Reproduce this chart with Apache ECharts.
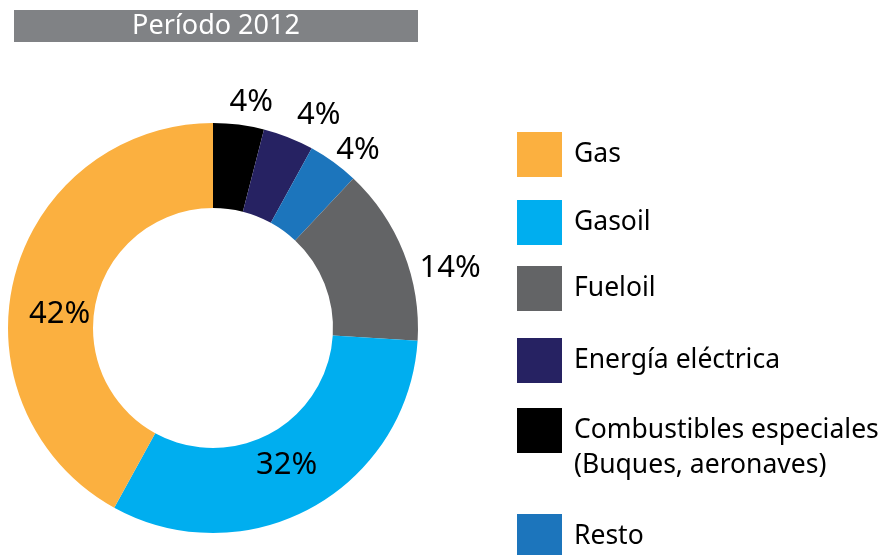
<!DOCTYPE html>
<html>
<head>
<meta charset="utf-8">
<script src="https://cdn.jsdelivr.net/npm/echarts@6/dist/echarts.min.js"></script>
<style>
  html, body { margin: 0; padding: 0; background: #fff; }
  #main { width: 887px; height: 555px; }
</style>
</head>
<body>
<div id="main"></div>
<script>
  // slices, clockwise from 12 o'clock
  var names = ['Combustibles especiales\n(Buques, aeronaves)', 'Energía eléctrica', 'Resto', 'Fueloil', 'Gasoil', 'Gas'];
  var values = [4, 4, 4, 14, 32, 42];
  var colors = ['#000000', '#262262', '#1c75bc', '#636466', '#00aeef', '#fbb040'];
  // legend order
  var legendNames = ['Gas', 'Gasoil', 'Fueloil', 'Energía eléctrica', 'Combustibles especiales\n(Buques, aeronaves)', 'Resto'];

  var insideLabels = { 'Gas': [7, 27], 'Gasoil': [-6, -8] };
  var outsideOffsets = [[-16, -8], [-2, -8], [-11, 0], [-3, 21]];
  var legendTops = [132, 200, 266, 338, 378, 514];

  var chart = echarts.init(document.getElementById('main'));

  var data = names.map(function (n, i) {
    var item = { name: n, value: values[i], itemStyle: { color: colors[i] } };
    if (insideLabels[n]) {
      item.label = { position: 'inside', offset: insideLabels[n] };
    } else {
      item.label = { position: 'outside', offset: outsideOffsets[i] };
    }
    return item;
  });

  var legends = legendNames.map(function (n, i) {
    var multi = n.indexOf('\n') >= 0;
    return {
      data: [n],
      left: 517,
      top: legendTops[i],
      padding: 0,
      orient: 'vertical',
      icon: 'rect',
      itemWidth: 45,
      itemHeight: 45,
      selectedMode: false,
      // two-line entry: text starts level with the icon
      formatter: function (name) { return multi ? '\n' + name : name; },
      textStyle: {
        fontFamily: 'Noto Sans',
        fontSize: 26.5,
        color: '#000',
        lineHeight: 35,
        padding: [0, 0, 0, 7]
      }
    };
  });

  chart.setOption({
    animation: false,
    title: {
      text: '{a|Período 2012}',
      left: 14,
      top: 10,
      padding: 0,
      textStyle: {
        rich: {
          a: {
            width: 404,
            height: 32,
            lineHeight: 32,
            align: 'center',
            backgroundColor: '#808285',
            color: '#fff',
            fontFamily: 'Noto Sans',
            fontSize: 27,
            fontWeight: 'normal'
          }
        }
      }
    },
    legend: legends,
    series: [{
      type: 'pie',
      center: [213, 328],
      radius: [120, 205],
      startAngle: 90,
      clockwise: true,
      avoidLabelOverlap: false,
      label: {
        show: true,
        formatter: '{c}%',
        fontFamily: 'Noto Sans',
        fontSize: 31,
        color: '#000'
      },
      labelLine: { show: false, length: 15, length2: 0 },
      emphasis: { disabled: true },
      data: data
    }]
  });
</script>
</body>
</html>
